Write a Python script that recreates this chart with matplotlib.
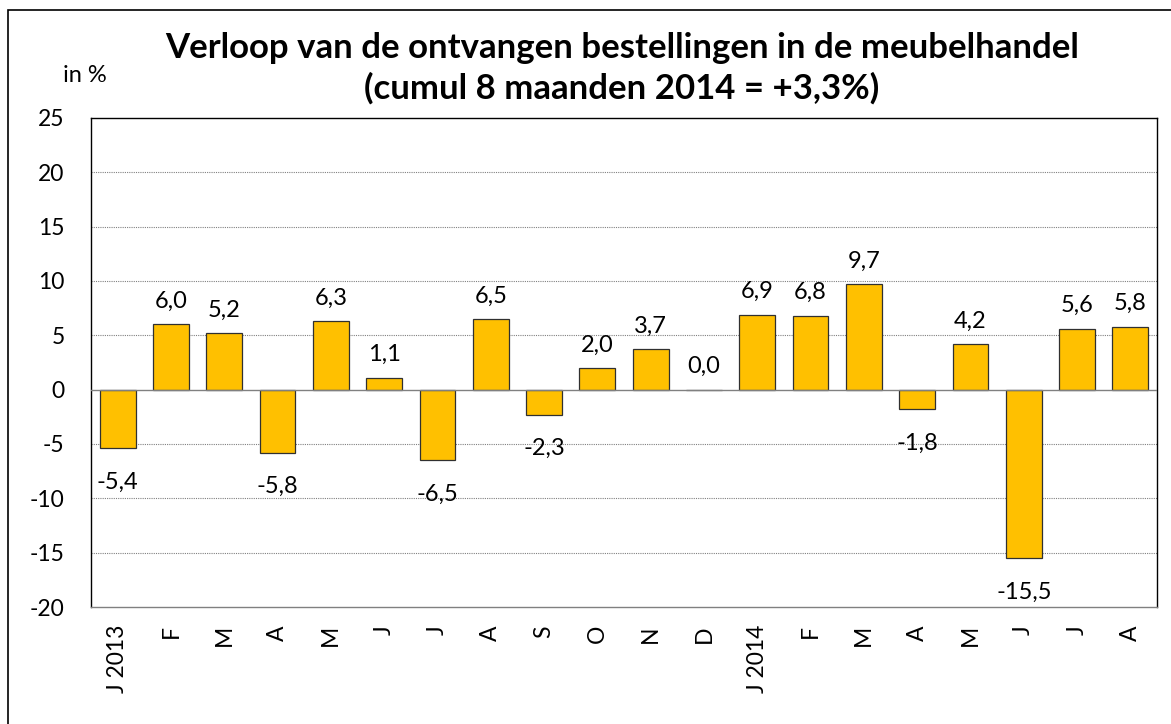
import matplotlib
matplotlib.use("Agg")
import matplotlib.pyplot as plt
from matplotlib.patches import Rectangle

categories = ["J 2013", "F", "M", "A", "M", "J", "J", "A", "S", "O", "N", "D",
              "J 2014", "F", "M", "A", "M", "J", "J", "A"]
values = [-5.4, 6.0, 5.2, -5.8, 6.3, 1.1, -6.5, 6.5, -2.3, 2.0, 3.7, 0.0,
          6.9, 6.8, 9.7, -1.8, 4.2, -15.5, 5.6, 5.8]
yticks = [-20, -15, -10, -5, 0, 5, 10, 15, 20, 25]
title = "Verloop van de ontvangen bestellingen in de meubelhandel\n(cumul 8 maanden 2014 = +3,3%)"

plt.rcParams['font.family'] = ['Lato', 'DejaVu Sans']

fig = plt.figure(figsize=(11.71, 7.24), dpi=100)
fig.patches.append(Rectangle((8/1171, -0.1), 1.2, 1 - 10/724 + 0.1,
                             transform=fig.transFigure, fill=False,
                             edgecolor='black', linewidth=1.2))
ax = fig.add_axes([91/1171, 1 - 607/724, (1157 - 91)/1171, (607 - 118)/724])

x = list(range(len(values)))
ax.bar(x, values, width=0.67, color='#FFC000', edgecolor='#303030', linewidth=0.9, zorder=3)

ax.set_ylim(-20, 25)
ax.set_xlim(-0.5, len(values) - 0.5)
ax.set_yticks(yticks)
ax.set_yticklabels([str(t) for t in yticks], fontsize=16.5)
ax.set_xticks(x)
ax.set_xticklabels(categories, rotation=90, fontsize=16.5)
ax.tick_params(axis='both', length=0)
ax.tick_params(axis='y', pad=19)
ax.tick_params(axis='x', pad=13)

for t in yticks:
    if t in (-20, 25):
        continue
    if t == 0:
        ax.axhline(0, color='#808080', linewidth=1.0, zorder=4)
    else:
        ax.axhline(t, color='#808080', linewidth=0.8, linestyle=(0, (1, 1)), zorder=1)

for s in ax.spines.values():
    s.set_color('black')
    s.set_linewidth(1.0)
ax.spines['bottom'].set_color('#808080')

for xi, v in zip(x, values):
    lab = f"{v:.1f}".replace('.', ',')
    if v >= 0:
        ax.annotate(lab, (xi, v), xytext=(0, 9), textcoords='offset points',
                    ha='center', va='bottom', fontsize=17)
    else:
        ax.annotate(lab, (xi, v), xytext=(0, -17), textcoords='offset points',
                    ha='center', va='top', fontsize=17)

fig.text(622/1171, 1 - 68/724, title, ha='center', va='center',
         fontsize=25, fontweight='bold', linespacing=1.3)
fig.text(85/1171, 1 - 75/724, "in %", ha='center', va='center', fontsize=17)

fig.savefig("out.png", dpi=100)
